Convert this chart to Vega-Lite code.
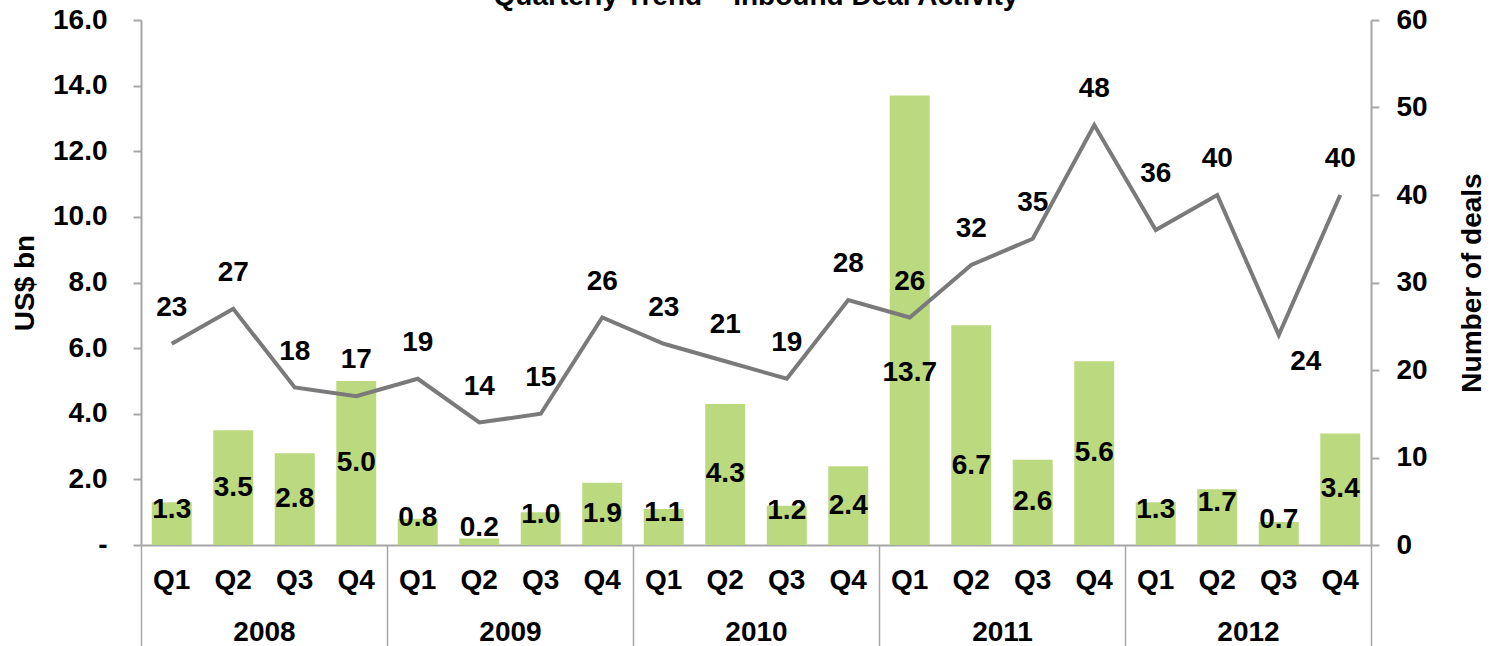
{
  "$schema": "https://vega.github.io/schema/vega-lite/v6.json",
  "autosize": {"type": "none"},
  "width": 1230,
  "height": 525,
  "padding": {"left": 141, "top": 20, "right": 130, "bottom": 101},
  "background": "white",
  "title": {
    "text": "Quarterly Trend – Inbound Deal Activity",
    "frame": "group",
    "anchor": "middle",
    "offset": 0,
    "dy": 27,
    "baseline": "alphabetic",
    "fontSize": 28,
    "fontWeight": "bold",
    "font": "Liberation Sans",
    "color": "black"
  },
  "config": {
    "view": {"stroke": null},
    "font": "Liberation Sans",
    "axis": {
      "labelFont": "Liberation Sans",
      "labelFontSize": 28,
      "labelFontWeight": "bold",
      "labelColor": "black",
      "titleFont": "Liberation Sans",
      "titleFontSize": 28,
      "titleFontWeight": "bold",
      "titleColor": "black",
      "domainColor": "#a6a6a6",
      "domainWidth": 2,
      "tickColor": "#a6a6a6",
      "tickWidth": 2,
      "grid": false
    }
  },
  "data": {
    "values": [
      {"year": "2008", "q": "Q1", "period": "2008 Q1", "usd": 1.3, "deals": 23},
      {"year": "2008", "q": "Q2", "period": "2008 Q2", "usd": 3.5, "deals": 27},
      {"year": "2008", "q": "Q3", "period": "2008 Q3", "usd": 2.8, "deals": 18},
      {"year": "2008", "q": "Q4", "period": "2008 Q4", "usd": 5.0, "deals": 17},
      {"year": "2009", "q": "Q1", "period": "2009 Q1", "usd": 0.8, "deals": 19},
      {"year": "2009", "q": "Q2", "period": "2009 Q2", "usd": 0.2, "deals": 14},
      {"year": "2009", "q": "Q3", "period": "2009 Q3", "usd": 1.0, "deals": 15},
      {"year": "2009", "q": "Q4", "period": "2009 Q4", "usd": 1.9, "deals": 26},
      {"year": "2010", "q": "Q1", "period": "2010 Q1", "usd": 1.1, "deals": 23},
      {"year": "2010", "q": "Q2", "period": "2010 Q2", "usd": 4.3, "deals": 21},
      {"year": "2010", "q": "Q3", "period": "2010 Q3", "usd": 1.2, "deals": 19},
      {"year": "2010", "q": "Q4", "period": "2010 Q4", "usd": 2.4, "deals": 28},
      {"year": "2011", "q": "Q1", "period": "2011 Q1", "usd": 13.7, "deals": 26},
      {"year": "2011", "q": "Q2", "period": "2011 Q2", "usd": 6.7, "deals": 32},
      {"year": "2011", "q": "Q3", "period": "2011 Q3", "usd": 2.6, "deals": 35},
      {"year": "2011", "q": "Q4", "period": "2011 Q4", "usd": 5.6, "deals": 48},
      {"year": "2012", "q": "Q1", "period": "2012 Q1", "usd": 1.3, "deals": 36},
      {"year": "2012", "q": "Q2", "period": "2012 Q2", "usd": 1.7, "deals": 40},
      {"year": "2012", "q": "Q3", "period": "2012 Q3", "usd": 0.7, "deals": 24},
      {"year": "2012", "q": "Q4", "period": "2012 Q4", "usd": 3.4, "deals": 40}
    ]
  },
  "layer": [
    {
      "encoding": {
        "x": {
          "field": "period",
          "type": "nominal",
          "sort": null,
          "scale": {"paddingInner": 0.35, "paddingOuter": 0.175},
          "axis": {
            "orient": "bottom",
            "title": null,
            "labelExpr": "split(datum.value, ' ')[1]",
            "labelAngle": 0,
            "ticks": false,
            "tickSize": 0,
            "labelPadding": 21,
            "labelBaseline": "top"
          }
        }
      },
      "layer": [
        {
          "mark": {"type": "bar", "color": "#bbd97e"},
          "encoding": {
            "y": {
              "field": "usd",
              "type": "quantitative",
              "scale": {"domain": [0, 16], "nice": false},
              "axis": {
                "orient": "left",
                "title": "US$ bn",
                "values": [0, 2, 4, 6, 8, 10, 12, 14, 16],
                "labelExpr": "datum.value == 0 ? '-\u00a0\u00a0\u00a0' : format(datum.value, '.1f')",
                "tickSize": 8,
                "labelPadding": 26,
                "titlePadding": 13
              }
            }
          }
        },
        {
          "transform": [{"filter": "datum.usd >= 1.8 && datum.period != '2011 Q1' && datum.period != '2011 Q2'"}],
          "mark": {"type": "text", "fontSize": 28, "fontWeight": "bold", "color": "black", "baseline": "middle"},
          "encoding": {
            "y": {"field": "usd", "type": "quantitative", "scale": {"domain": [0, 32], "nice": false}, "axis": null},
            "text": {"field": "usd", "type": "quantitative", "format": ".1f"}
          }
        },
        {
          "transform": [{"filter": "datum.usd < 1.8"}],
          "mark": {"type": "text", "fontSize": 28, "fontWeight": "bold", "color": "black", "baseline": "middle", "dy": -14},
          "encoding": {
            "y": {"field": "usd", "type": "quantitative", "scale": {"domain": [0, 32], "nice": false}, "axis": null},
            "text": {"field": "usd", "type": "quantitative", "format": ".1f"}
          }
        },
        {
          "transform": [{"filter": "datum.period == '2011 Q1'"}],
          "mark": {"type": "text", "fontSize": 28, "fontWeight": "bold", "color": "black", "baseline": "middle", "dy": 53},
          "encoding": {
            "y": {"field": "usd", "type": "quantitative", "scale": {"domain": [0, 32], "nice": false}, "axis": null},
            "text": {"field": "usd", "type": "quantitative", "format": ".1f"}
          }
        },
        {
          "transform": [{"filter": "datum.period == '2011 Q2'"}],
          "mark": {"type": "text", "fontSize": 28, "fontWeight": "bold", "color": "black", "baseline": "middle", "dy": 31},
          "encoding": {
            "y": {"field": "usd", "type": "quantitative", "scale": {"domain": [0, 32], "nice": false}, "axis": null},
            "text": {"field": "usd", "type": "quantitative", "format": ".1f"}
          }
        },
        {
          "mark": {"type": "line", "color": "#7a7a7a", "strokeWidth": 4},
          "encoding": {
            "y": {
              "field": "deals",
              "type": "quantitative",
              "scale": {"domain": [0, 60], "nice": false},
              "axis": {
                "orient": "right",
                "title": "Number of deals",
                "values": [0, 10, 20, 30, 40, 50, 60],
                "tickSize": 8,
                "labelPadding": 17,
                "titleAngle": 270,
                "titleBaseline": "top",
                "titlePadding": 31
              }
            }
          }
        },
        {
          "transform": [{"filter": "datum.period != '2012 Q3' && datum.period != '2012 Q1'"}],
          "mark": {"type": "text", "fontSize": 28, "fontWeight": "bold", "color": "black", "baseline": "middle", "dy": -36},
          "encoding": {
            "y": {"field": "deals", "type": "quantitative", "scale": {"domain": [0, 60], "nice": false}, "axis": null},
            "text": {"field": "deals", "type": "quantitative"}
          }
        },
        {
          "transform": [{"filter": "datum.period == '2012 Q1'"}],
          "mark": {"type": "text", "fontSize": 28, "fontWeight": "bold", "color": "black", "baseline": "middle", "dy": -56},
          "encoding": {
            "y": {"field": "deals", "type": "quantitative", "scale": {"domain": [0, 60], "nice": false}, "axis": null},
            "text": {"field": "deals", "type": "quantitative"}
          }
        },
        {
          "transform": [{"filter": "datum.period == '2012 Q3'"}],
          "mark": {"type": "text", "fontSize": 28, "fontWeight": "bold", "color": "black", "baseline": "middle", "dy": 27, "dx": 27},
          "encoding": {
            "y": {"field": "deals", "type": "quantitative", "scale": {"domain": [0, 60], "nice": false}, "axis": null},
            "text": {"field": "deals", "type": "quantitative"}
          }
        }
      ],
      "resolve": {"scale": {"y": "independent"}}
    },
    {
      "mark": {"type": "point", "opacity": 0},
      "encoding": {
        "x": {
          "field": "year",
          "type": "nominal",
          "sort": null,
          "scale": {"paddingInner": 0, "paddingOuter": 0},
          "axis": {
            "orient": "bottom",
            "title": null,
            "labelAngle": 0,
            "domain": false,
            "tickBand": "extent",
            "tickSize": 101,
            "tickWidth": 1.5,
            "labelPadding": -28,
            "labelBaseline": "top"
          }
        }
      }
    }
  ],
  "resolve": {"scale": {"x": "independent", "y": "independent"}}
}
